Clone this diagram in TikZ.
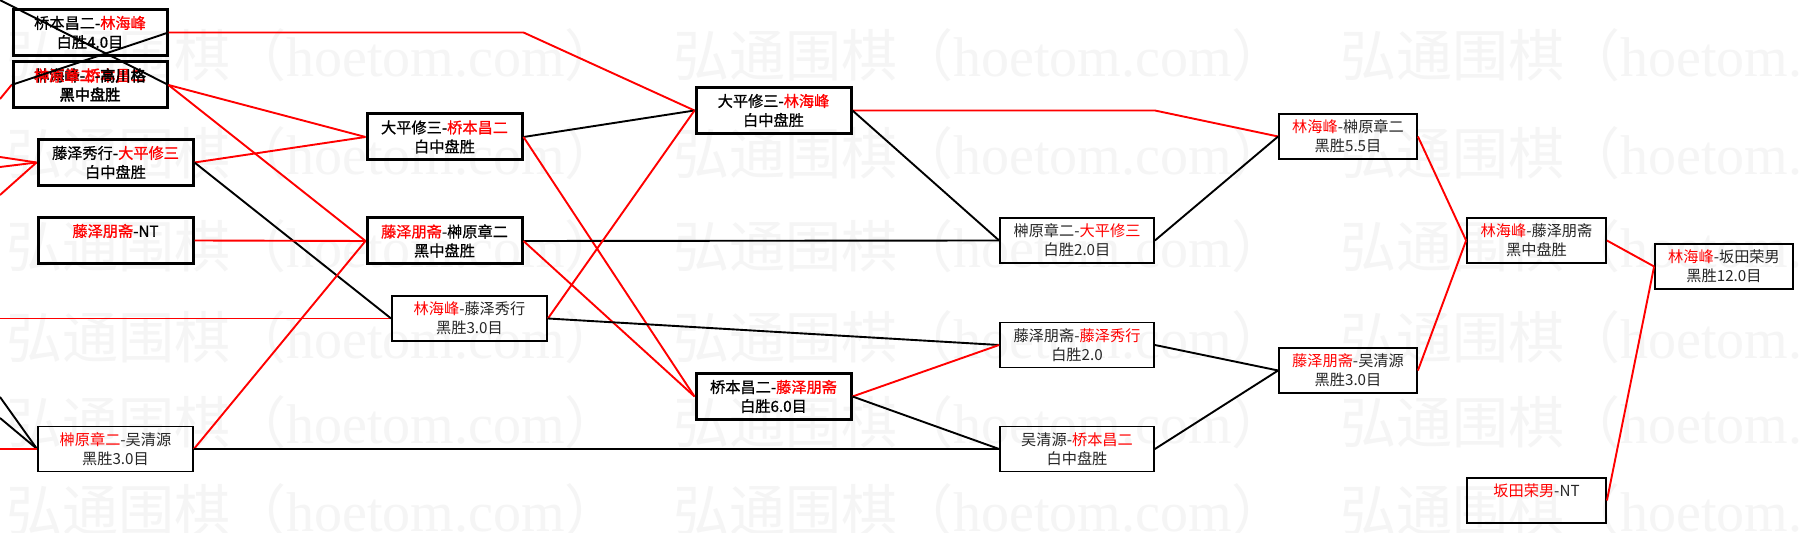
\documentclass[tikz,border=0pt]{standalone}
\usepackage{fontspec}
\newfontfamily\cjk{Noto Sans CJK SC}
\newfontfamily\cjkb[FakeBold=2.5]{Noto Sans CJK SC}
\newfontfamily\cjkm[FakeBold=0.8]{Noto Sans CJK SC}
\newfontfamily\wmlat{Liberation Serif}
\newcommand\rd[1]{\textcolor{red}{#1}}
\tikzset{
 thickbox/.style={draw=black, line width=1.5pt, minimum height=23pt, inner sep=0pt},
 thinbox/.style={draw=black, line width=0.9pt, minimum height=22.5pt, inner sep=0pt},
 txt/.style={font=\cjk\fontsize{7.6}{9}\selectfont, inner sep=0pt, text=black!85},
 txtm/.style={font=\cjkm\fontsize{7.6}{9}\selectfont, inner sep=0pt, text=black},
 txtb/.style={font=\cjkb\fontsize{7.6}{9}\selectfont, inner sep=0pt, text=black},
 wm/.style={font=\cjk\fontsize{28}{30}\selectfont, text=black!4, anchor=west, inner sep=0pt},
 rl/.style={draw=red, line width=0.95pt},
 bl/.style={draw=black, line width=0.95pt},
}
% #1 box style, #2 name, #3 x, #4 y, #5 width (pt), #6 line1, #7 line2, #8 text style
\newcommand\bx[8]{%
 \node[#1, minimum width=#5pt] (#2) at (#3,#4) {};
 \node[#8] (#2t) at ([yshift=4.75pt]#2.center) {#6};
 \node[#8] (#2u) at ([yshift=-4.75pt]#2.center) {#7};}
\begin{document}
\begin{tikzpicture}[x=0.5pt, y=-0.5pt]
\useasboundingbox (0,0) rectangle (1803,533);
\fill[white] (0,0) rectangle (1803,533);
\clip (0,0) rectangle (1803,533);
% watermark
\foreach \yy in {55,153,246,337,422,510}{
 \foreach \xx in {-661,6,673,1340}{
  \node[wm] (wm-\xx-\yy) at (\xx,\yy) {弘通围棋（{\wmlat hoetom.com}）};
 }
}
% boxes
\bx{thickbox}{A}{90}{32.5}{77}{桥本昌二-\rd{林海峰}}{白胜4.0目}{txtm}
\node[thickbox, minimum width=77pt] (B) at (90,85) {};
\node[txtb] (Bt1) at ([yshift=4.75pt]B.center) {林海峰-\rd{桥本昌二}};
\node[txtb] (Bt2) at ([yshift=4.75pt]B.center) {\rd{榊原章二}-高川格};
\node[txtb] (Bu) at ([yshift=-4.75pt]B.center) {黑中盘胜};
\bx{thickbox}{C}{115.5}{162.5}{77.5}{藤泽秀行-\rd{大平修三}}{白中盘胜}{txtm}
\bx{thickbox}{D}{115.5}{240.5}{77.5}{\rd{藤泽朋斋}-NT}{}{txtm}
\bx{thinbox}{E}{115.5}{449}{77.5}{\rd{榊原章二}-吴清源}{黑胜3.0目}{txt}
\bx{thickbox}{F}{444.5}{137}{77.5}{大平修三-\rd{桥本昌二}}{白中盘胜}{txtm}
\bx{thickbox}{G}{444.5}{241}{77.5}{\rd{藤泽朋斋}-榊原章二}{黑中盘胜}{txtm}
\bx{thinbox}{H}{469.5}{318.5}{77.5}{\rd{林海峰}-藤泽秀行}{黑胜3.0目}{txt}
\bx{thickbox}{I}{773.5}{110.5}{77.5}{大平修三-\rd{林海峰}}{白中盘胜}{txtm}
\bx{thickbox}{K}{773.5}{396.5}{77.5}{桥本昌二-\rd{藤泽朋斋}}{白胜6.0目}{txtm}
\bx{thinbox}{J}{1077}{240.5}{77}{榊原章二-\rd{大平修三}}{白胜2.0目}{txt}
\bx{thinbox}{L}{1077}{345}{77}{藤泽朋斋-\rd{藤泽秀行}}{白胜2.0}{txt}
\bx{thinbox}{M}{1077}{449}{77}{吴清源-\rd{桥本昌二}}{白中盘胜}{txt}
\bx{thinbox}{N}{1348}{136.5}{69}{\rd{林海峰}-榊原章二}{黑胜5.5目}{txt}
\bx{thinbox}{Q}{1348}{370.5}{69}{\rd{藤泽朋斋}-吴清源}{黑胜3.0目}{txt}
\bx{thinbox}{O}{1536.5}{240.5}{69.5}{\rd{林海峰}-藤泽朋斋}{黑中盘胜}{txt}
\bx{thinbox}{R}{1536.5}{500.5}{69.5}{\rd{坂田荣男}-NT}{}{txt}
\bx{thinbox}{P}{1724}{266.5}{69}{\rd{林海峰}-坂田荣男}{黑胜12.0目}{txt}
% off-canvas ends
\coordinate (e0) at (-30,-15);
\coordinate (e1) at (0,99);
\coordinate (e2) at (0,157);
\coordinate (e3) at (0,167);
\coordinate (e4) at (0,195);
\coordinate (e5) at (0,318.5);
\coordinate (e6) at (0,397);
\coordinate (e7) at (0,418);
\coordinate (e8) at (0,449);
% connectors
\draw[bl] (e0) -- (B.east);
\draw[bl] (A.east) -- (B.west);
\draw[rl] (e1) -- (B.west);
\draw[rl] (e2) -- (C.west);
\draw[rl] (e3) -- (C.west);
\draw[rl] (e4) -- (C.west);
\draw[rl] (e5) -- (H.west);
\draw[bl] (e6) -- (E.west);
\draw[bl] (e7) -- (E.west);
\draw[rl] (e8) -- (E.west);
\draw[rl] (A.east) -- (A.east -| F.east) -- (I.west);
\draw[rl] (B.east) -- (F.west);
\draw[rl] (B.east) -- (G.west);
\draw[rl] (C.east) -- (F.west);
\draw[bl] (C.east) -- (H.west);
\draw[rl] (D.east) -- (G.west);
\draw[rl] (E.east) -- (G.west);
\draw[bl] (E.east) -- (M.west);
\draw[bl] (F.east) -- (I.west);
\draw[rl] (F.east) -- (K.west);
\draw[bl] (G.east) -- (J.west);
\draw[rl] (G.east) -- (K.west);
\draw[rl] (H.east) -- (I.west);
\draw[bl] (H.east) -- (L.west);
\draw[rl] (I.east) -- (I.east -| J.east) -- (N.west);
\draw[bl] (I.east) -- (J.west);
\draw[rl] (K.east) -- (L.west);
\draw[bl] (K.east) -- (M.west);
\draw[bl] (J.east) -- (N.west);
\draw[bl] (L.east) -- (Q.west);
\draw[bl] (M.east) -- (Q.west);
\draw[rl] (N.east) -- (O.west);
\draw[rl] (Q.east) -- (O.west);
\draw[rl] (O.east) -- (P.west);
\draw[rl] (R.east) -- (P.west);
\end{tikzpicture}
\end{document}
